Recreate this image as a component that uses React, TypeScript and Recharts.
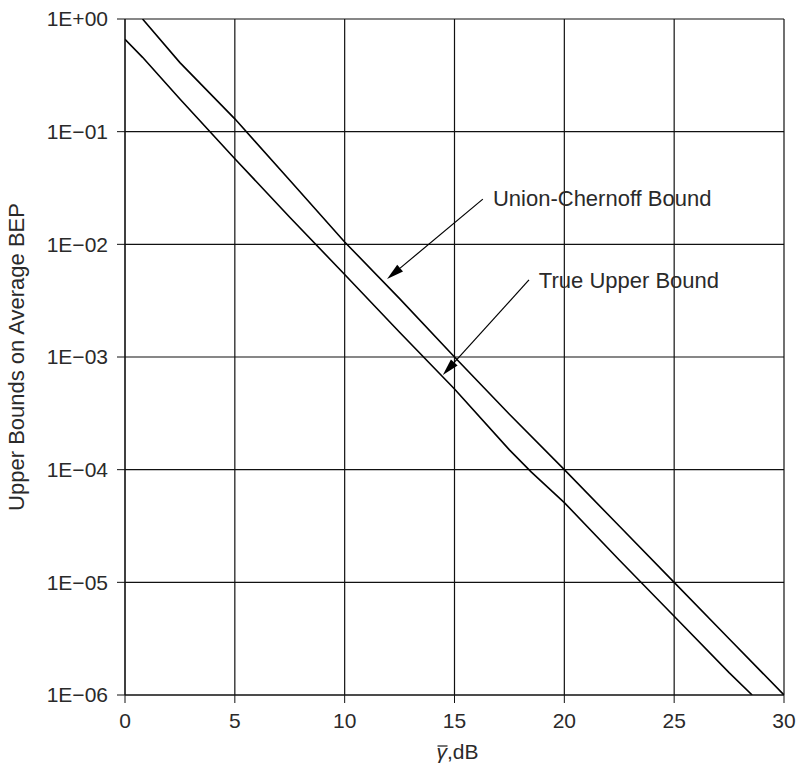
import React from "react";
import {
  LineChart,
  Line,
  XAxis,
  YAxis,
  CartesianGrid,
  ReferenceLine,
  ReferenceDot,
  Label,
} from "recharts";

// Union-Chernoff bound (dB, BEP)
const ucX = [0.8, 2.5, 5, 7.5, 10, 12.5, 15, 17.5, 20, 22.5, 25, 27.5, 30];
const ucBEP = [1.0, 0.41, 0.13, 0.037, 0.0105, 0.0033, 1.0e-3, 3.1e-4, 1.0e-4, 3.16e-5, 1.0e-5, 3.16e-6, 1.0e-6];

// True upper bound (dB, BEP)
const tuX = [0, 0.8, 2.5, 5, 7.5, 10, 12.5, 15, 17.5, 18.5, 20, 22.5, 25, 27.5, 28.55];
const tuBEP = [0.66, 0.457, 0.195, 0.0575, 0.0174, 0.0054, 1.66e-3, 5.2e-4, 1.5e-4, 9.5e-5, 5.1e-5, 1.58e-5, 5.0e-6, 1.58e-6, 1.0e-6];

const xTicks = [0, 5, 10, 15, 20, 25, 30];
const yTicks = [1, 1e-1, 1e-2, 1e-3, 1e-4, 1e-5, 1e-6];
const yTickLabels = ["1E+00", "1E\u221201", "1E\u221202", "1E\u221203", "1E\u221204", "1E\u221205", "1E\u221206"];

// annotations: [fromX, fromY, tipX, tipY]
const ucArrow = [16.29, 0.0252, 11.93, 0.00492];
const tuArrow = [18.39, 0.00483, 14.47, 0.000692];
const ucText = { x: 16.75, y: 0.022, text: "Union-Chernoff Bound" };
const tuText = { x: 18.84, y: 0.00407, text: "True Upper Bound" };

const ucData = ucX.map((x, i) => ({ x, y: ucBEP[i] }));
const tuData = tuX.map((x, i) => ({ x, y: tuBEP[i] }));

const FONT = "'Liberation Sans', Arial, Helvetica, sans-serif";
const TEXT_COLOR = "#2a2a2a";

const ArrowShape = (props: any) => {
  const { x1, y1, x2, y2 } = props;
  if ([x1, y1, x2, y2].some((v) => v == null || isNaN(v))) return null;
  const dx = x2 - x1;
  const dy = y2 - y1;
  const len = Math.sqrt(dx * dx + dy * dy);
  const ux = dx / len;
  const uy = dy / len;
  const hl = 17;
  const hw = 4.5;
  const bx = x2 - ux * hl;
  const by = y2 - uy * hl;
  const px = -uy;
  const py = ux;
  return (
    <g>
      <line x1={x1} y1={y1} x2={bx} y2={by} stroke="#000" strokeWidth={1.2} />
      <polygon
        points={`${x2},${y2} ${bx + px * hw},${by + py * hw} ${bx - px * hw},${by - py * hw}`}
        fill="#000"
      />
    </g>
  );
};

const textShape = (label: string) => (props: any) => {
  const { cx, cy } = props;
  return (
    <text x={cx} y={cy} fontFamily={FONT} fontSize={22} fill={TEXT_COLOR}>
      {label}
    </text>
  );
};

export default function App() {
  return (
    <div style={{ position: "absolute", left: 0, top: 0, width: 796, height: 764, background: "#fff" }}>
      <LineChart
        width={796}
        height={764}
        margin={{ top: 19, right: 12, bottom: 0, left: 0 }}
      >
        <CartesianGrid stroke="#111" strokeWidth={1.2} horizontalValues={yTicks} verticalValues={xTicks} />
        <XAxis
          type="number"
          dataKey="x"
          domain={[0, 30]}
          ticks={xTicks}
          height={69}
          tickSize={8}
          tickMargin={10}
          stroke="#111"
          tick={{ fill: TEXT_COLOR, fontSize: 21, fontFamily: FONT }}
          allowDataOverflow
        >
          <Label
            content={(p: any) => {
              const vb = p.viewBox || {};
              const cx = vb.x + vb.width / 2;
              const by = vb.y + 64;
              return (
                <g>
                  <text x={cx - 18} y={by} fontFamily={FONT} fontSize={21} fill={TEXT_COLOR}>
                    <tspan fontStyle="italic">{"\u03b3"}</tspan>
                    <tspan>,dB</tspan>
                  </text>
                  <line x1={cx - 17} y1={by - 13} x2={cx - 7} y2={by - 13} stroke={TEXT_COLOR} strokeWidth={1.3} />
                </g>
              );
            }}
          />
        </XAxis>
        <YAxis
          type="number"
          dataKey="y"
          scale="log"
          domain={[1e-6, 1]}
          ticks={yTicks}
          width={125}
          tickSize={8}
          tickMargin={9}
          stroke="#111"
          allowDataOverflow
          tickFormatter={(v: number) => {
            const i = yTicks.findIndex((t) => Math.abs(Math.log10(t) - Math.log10(v)) < 1e-6);
            return i >= 0 ? yTickLabels[i] : "";
          }}
          tick={{ fill: TEXT_COLOR, fontSize: 21, fontFamily: FONT }}
        >
          <Label
            content={(p: any) => {
              const vb = p.viewBox || {};
              const cy = vb.y + vb.height / 2;
              const bx = 24;
              return (
                <text
                  x={bx}
                  y={cy}
                  textAnchor="middle"
                  transform={`rotate(-90, ${bx}, ${cy})`}
                  fontFamily={FONT}
                  fontSize={22}
                  fill={TEXT_COLOR}
                >
                  Upper Bounds on Average BEP
                </text>
              );
            }}
          />
        </YAxis>
        <Line
          data={tuData}
          dataKey="y"
          type="linear"
          stroke="#000"
          strokeWidth={1.6}
          dot={false}
          isAnimationActive={false}
        />
        <Line
          data={ucData}
          dataKey="y"
          type="linear"
          stroke="#000"
          strokeWidth={1.6}
          dot={false}
          isAnimationActive={false}
        />
        <ReferenceLine
          segment={[
            { x: ucArrow[0], y: ucArrow[1] },
            { x: ucArrow[2], y: ucArrow[3] },
          ]}
          shape={ArrowShape}
        />
        <ReferenceLine
          segment={[
            { x: tuArrow[0], y: tuArrow[1] },
            { x: tuArrow[2], y: tuArrow[3] },
          ]}
          shape={ArrowShape}
        />
        <ReferenceDot x={ucText.x} y={ucText.y} r={0} shape={textShape(ucText.text)} />
        <ReferenceDot x={tuText.x} y={tuText.y} r={0} shape={textShape(tuText.text)} />
      </LineChart>
    </div>
  );
}
